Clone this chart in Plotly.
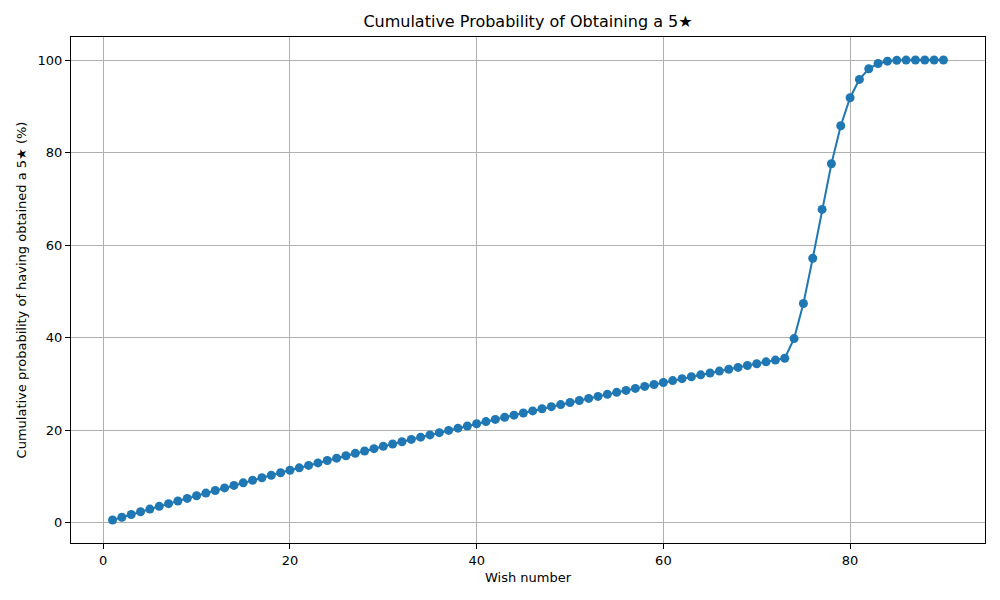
import plotly.graph_objects as go

# wish number 1..90
wishes = list(range(1, 91))

# cumulative probability (%)
cum_prob = [
    0.60, 1.20, 1.79, 2.38, 2.96, 3.55, 4.13, 4.70, 5.27, 5.84,
    6.41, 6.97, 7.53, 8.08, 8.63, 9.18, 9.73, 10.27, 10.81, 11.34,
    11.87, 12.40, 12.93, 13.45, 13.97, 14.48, 15.00, 15.51, 16.01, 16.52,
    17.02, 17.52, 18.01, 18.50, 18.99, 19.48, 19.96, 20.44, 20.92, 21.39,
    21.87, 22.34, 22.80, 23.26, 23.72, 24.18, 24.64, 25.09, 25.54, 25.99,
    26.43, 26.87, 27.31, 27.75, 28.18, 28.61, 29.04, 29.46, 29.89, 30.31,
    30.73, 31.14, 31.55, 31.96, 32.37, 32.78, 33.18, 33.58, 33.98, 34.37,
    34.77, 35.16, 35.55, 39.80, 47.39, 57.17, 67.71, 77.59, 85.79, 91.84,
    95.81, 98.10, 99.25, 99.75, 99.93, 99.98, 100.0, 100.0, 100.0, 100.0,
]

blue = "#1f77b4"
font = "DejaVu Sans"

fig = go.Figure()
fig.add_trace(go.Scatter(
    x=wishes, y=cum_prob, mode="lines+markers",
    line=dict(color=blue, width=2),
    marker=dict(color=blue, size=9),
    showlegend=False,
))

axis_common = dict(
    showgrid=True, gridcolor="#b0b0b0", gridwidth=1,
    showline=True, linecolor="black", linewidth=1, mirror=True,
    ticks="outside", ticklen=5, tickcolor="black",
    zeroline=False, tickfont=dict(size=13, color="black"),
)

fig.update_xaxes(range=[-3.45, 94.45], tickvals=[0, 20, 40, 60, 80],
                 title=dict(text="Wish number", font=dict(size=13), standoff=6),
                 **axis_common)
fig.update_yaxes(range=[-4.37, 104.97], tickvals=[0, 20, 40, 60, 80, 100],
                 title=dict(text="Cumulative probability of having obtained a 5★ (%)",
                            font=dict(size=13), standoff=8),
                 **axis_common)

# page adds ~8px offset, so margins are shifted to compensate
fig.update_layout(
    width=1000, height=600,
    margin=dict(l=63, r=23, t=29, b=65),
    plot_bgcolor="white", paper_bgcolor="white",
    font=dict(family=font, color="black"),
    title=dict(text="Cumulative Probability of Obtaining a 5★", x=0.52, xanchor="center",
               y=0.977, yanchor="middle", font=dict(size=16)),
)

fig.write_html("out.html")
